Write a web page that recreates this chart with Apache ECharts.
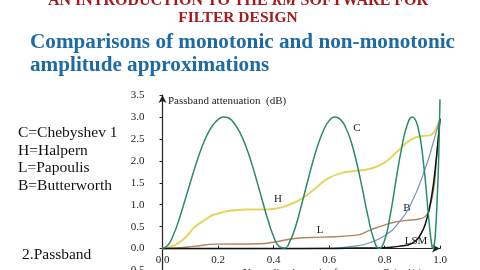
<!DOCTYPE html>
<html><head><meta charset="utf-8">
<script src="https://cdn.jsdelivr.net/npm/echarts@6/dist/echarts.min.js"></script>
<style>html,body{margin:0;padding:0;background:#fff}#c{width:480px;height:270px}</style>
</head><body><div id="c"></div>
<script>
// ---- data ----
const yTicks = [-0.5,0,0.5,1,1.5,2,2.5,3,3.5];
const xTicks = [0,0.2,0.4,0.6,0.8,1.0];

const cFreq = [0,0.02,0.04,0.06,0.08,0.10,0.12,0.14,0.16,0.18,0.20,0.22,0.24,0.26,0.28,0.30,0.32,0.34,0.36,0.38,0.40,0.42,0.44,0.46,0.48,0.50,0.52,0.54,0.56,0.58,0.60,0.62,0.64,0.66,0.68,0.70,0.72,0.74,0.76,0.78,0.80,0.82,0.84,0.86,0.88,0.90,0.92,0.94,0.96,0.97,0.975,0.98,0.985,0.99,0.995,1.0];
const cVal  = [0,0.08,0.32,0.67,1.08,1.50,1.91,2.28,2.58,2.80,2.94,3.00,2.97,2.84,2.63,2.34,1.97,1.54,1.09,0.65,0.28,0.05,0.01,0.18,0.51,0.97,1.46,1.94,2.36,2.69,2.91,3.00,2.95,2.76,2.43,1.95,1.37,0.75,0.24,0.00,0.18,0.74,1.50,2.23,2.78,3.00,2.78,1.98,0.65,0.09,0.00,0.12,0.50,1.14,1.99,3.40];

const hFreq = [0,0.03,0.063,0.09,0.111,0.135,0.159,0.18,0.207,0.23,0.255,0.30,0.351,0.405,0.453,0.502,0.55,0.597,0.646,0.694,0.748,0.796,0.844,0.892,0.928,0.964,0.988,1.0];
const hVal  = [0,0.04,0.15,0.30,0.46,0.58,0.68,0.76,0.81,0.85,0.87,0.89,0.89,0.91,0.99,1.14,1.37,1.60,1.72,1.77,1.82,1.94,2.20,2.47,2.56,2.58,2.77,2.96];

const lFreq = [0,0.063,0.111,0.195,0.351,0.405,0.477,0.573,0.694,0.748,0.796,0.844,0.892,0.928,0.95,0.964,0.978,0.988,1.0];
const lVal  = [0,0.02,0.05,0.10,0.11,0.15,0.23,0.26,0.30,0.42,0.53,0.61,0.65,0.68,0.75,0.95,1.40,2.09,2.96];

const bFreq = [0,0.5,0.6,0.7,0.75,0.8,0.85,0.9,0.95,0.975,1.0];
const bVal  = [0,0.00,0.01,0.06,0.14,0.29,0.58,1.08,1.88,2.40,2.96];

const sFreq = [0,0.6,0.7,0.8,0.85,0.9,0.93,0.95,0.97,0.985,1.0];
const sVal  = [0,0.00,0.01,0.02,0.05,0.12,0.32,0.62,1.20,1.95,2.96];

const legendLines = ['C=Chebyshev 1','H=Halpern','L=Papoulis','B=Butterworth'];
// --------------------------------------

const zip = (a,b) => a.map((x,i)=>[x,b[i]]);
const serif = '"Liberation Serif","DejaVu Serif",serif';
const chart = echarts.init(document.getElementById('c'), null, {renderer:'canvas'});

const G = {top:95, height:175.5, left:162.5, right:40};
const yMin = yTicks[0], yMax = yTicks[yTicks.length-1];
// distance from grid bottom up to the y=0 line, so the x axis sits on zero
const xAxisOffset = -G.height * (0 - yMin) / (yMax - yMin);

function line(name, f, v, color, w){
  return {name, type:'line', data:zip(f,v), showSymbol:false, smooth:0.5,
    lineStyle:{color, width:w}, itemStyle:{color}, z: 3, silent:true, clip:false};
}

const txt = (text, x, y, size, color, opts={}) => ({type:'text', x, y, style:Object.assign({
  text, fill:color, font:(opts.weight||'normal')+' '+size+'px '+serif,
  align:opts.align||'left', verticalAlign:'middle'}, opts.extra||{})});

const graphics = [
  {type:'text', x:238, y:1, style:{
    text:'{a|AN INTRODUCTION TO THE }{b|KM}{a| SOFTWARE FOR}', align:'center', verticalAlign:'middle',
    rich:{a:{fontFamily:serif, fontWeight:'bold', fontSize:16, fill:'#a3191c', color:'#a3191c'},
          b:{fontFamily:serif, fontWeight:'bold', fontStyle:'italic', fontSize:16, fill:'#a3191c', color:'#a3191c'}}}},
  txt('FILTER DESIGN', 238, 18, 15.5, '#a3191c', {weight:'bold', align:'center'}),
  txt('Comparisons of monotonic and non-monotonic', 30, 43, 21.2, '#1d6aa5', {weight:'bold'}),
  txt('amplitude approximations', 30, 66, 21.2, '#1d6aa5', {weight:'bold'}),
  txt('Passband attenuation  (dB)', 168, 101, 11, '#222'),
  txt('Normalized angular frequency, \u03A9 (rad/s)', 243, 273, 11, '#222'),
  txt('2.Passband', 22, 255, 15.5, '#111'),
  txt('C', 357, 128, 11, '#222', {align:'center'}),
  txt('H', 278, 199, 11, '#222', {align:'center'}),
  txt('L', 320, 230, 11, '#222', {align:'center'}),
  txt('B', 407, 208, 11, '#222', {align:'center'}),
  txt('LSM', 416, 241, 11, '#222', {align:'center'})
];
legendLines.forEach((t,i)=>graphics.push(txt(t, 18, 133 + i*17.5, 15.5, '#111')));

chart.setOption({
  backgroundColor:'#ffffff',
  animation:false,
  grid:{left:G.left, right:G.right, top:G.top, height:G.height, containLabel:false, outerBoundsMode:'none'},
  xAxis:{type:'value', min:xTicks[0], max:xTicks[xTicks.length-1], interval:0.2, offset:xAxisOffset,
    axisLine:{onZero:false, lineStyle:{color:'#222', width:1.2}, symbol:['none','arrow'], symbolSize:[6,8]},
    axisTick:{show:true, inside:true, length:3, lineStyle:{color:'#222'}},
    splitLine:{show:false},
    axisLabel:{margin:6, fontFamily:serif, fontSize:11, color:'#222', formatter:v=>v.toFixed(1)}},
  yAxis:{type:'value', min:yMin, max:yMax, interval:0.5,
    axisLine:{onZero:false, lineStyle:{color:'#222', width:1.2}, symbol:['none','arrow'], symbolSize:[6,8]},
    axisTick:{show:true, inside:false, length:3, lineStyle:{color:'#222'}},
    splitLine:{show:false},
    axisLabel:{margin:18, fontFamily:serif, fontSize:11, color:'#222', formatter:v=>v.toFixed(1)}},
  series:[
    line('H', hFreq, hVal, '#e6d55c', 2),
    line('L', lFreq, lVal, '#b5845e', 1.4),
    line('B', bFreq, bVal, '#6f98b2', 1.2),
    line('LSM', sFreq, sVal, '#111111', 1.5),
    line('C', cFreq, cVal, '#2a8a6c', 1.5)
  ],
  graphic:graphics
});
</script></body></html>
